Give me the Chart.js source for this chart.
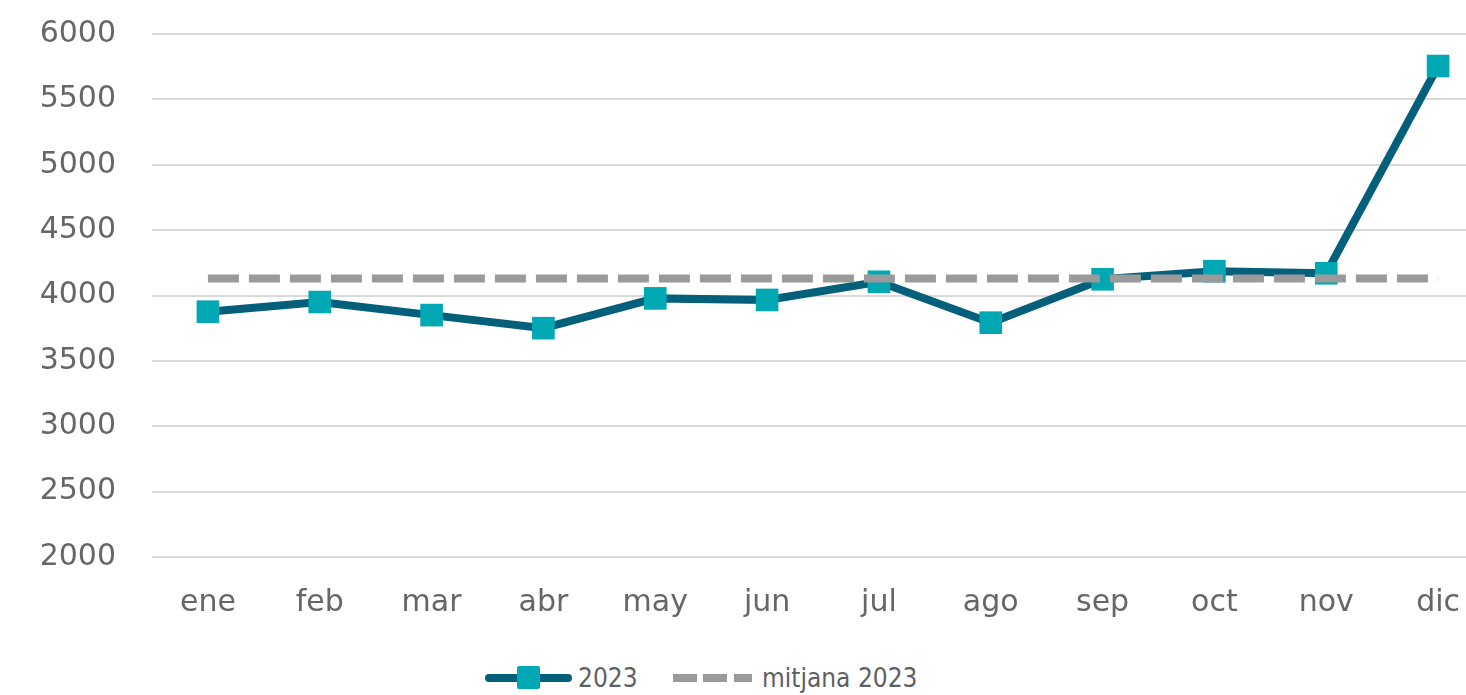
<!DOCTYPE html>
<html>
<head>
<meta charset="utf-8">
<script src="https://cdn.jsdelivr.net/npm/chart.js@4/dist/chart.umd.min.js"></script>
<style>
    html, body { margin: 0; padding: 0; background: #fff; overflow: hidden; }
    #wrap { position: relative; width: 1466px; height: 695px; overflow: hidden; }
    #chart { position: absolute; left: 0; top: -20px; }
    .legend { position: absolute; top: 660px; height: 36px; white-space: nowrap; font-family: "Liberation Sans Narrow", "DejaVu Sans Condensed", sans-serif; font-size: 26px; color: #5f5f5f; line-height: 36px; }
    .sample-line { position: absolute; top: 14px; height: 8px; border-radius: 4px; background: #035f7a; }
    .sample-mark { position: absolute; top: 6px; width: 23px; height: 23px; border-radius: 2px; background: #00a8b4; }
    .sample-dash { position: absolute; top: 14px; height: 8px; background: #9a9a9a; }
</style>
</head>
<body>
<div id="wrap">
    <canvas id="chart" width="1494" height="661"></canvas>

    <!-- legend -->
    <div class="legend" style="left:485px; width:160px;">
        <div class="sample-line" style="left:0; width:87px;"></div>
        <div class="sample-mark" style="left:32px;"></div>
        <span style="position:absolute; left:93px;">2023</span>
    </div>
    <div class="legend" style="left:673px; width:300px;">
        <div class="sample-dash" style="left:0; width:24px;"></div>
        <div class="sample-dash" style="left:30px; width:24px;"></div>
        <div class="sample-dash" style="left:61px; width:18px;"></div>
        <span style="position:absolute; left:89px;">mitjana 2023</span>
    </div>
</div>

<script>
/* ================= DATA ================= */
const months = ["ene", "feb", "mar", "abr", "may", "jun", "jul", "ago", "sep", "oct", "nov", "dic"];
const values2023 = [3876, 3950, 3850, 3750, 3978, 3966, 4105, 3792, 4124, 4186, 4170, 5755];
const mean2023 = 4130;
const yTicks = [2000, 2500, 3000, 3500, 4000, 4500, 5000, 5500, 6000];

const meanLine = months.map(() => mean2023);

/* ================= CHART ================= */
const tickFont = { family: "DejaVu Sans", size: 30 };

new Chart(document.getElementById("chart"), {
    type: "line",
    data: {
        labels: months,
        datasets: [
            {
                label: "2023",
                data: values2023,
                borderColor: "#035f7a",
                borderWidth: 8,
                pointStyle: "rect",
                pointRadius: 16,
                pointBackgroundColor: "#00a8b4",
                pointBorderWidth: 0,
                tension: 0,
                order: 1
            },
            {
                label: "mitjana 2023",
                data: meanLine,
                borderColor: "#9a9a9a",
                borderWidth: 8,
                borderDash: [31, 10],
                borderCapStyle: "butt",
                pointRadius: 0,
                tension: 0,
                order: 0
            }
        ]
    },
    options: {
        responsive: false,
        animation: false,
        devicePixelRatio: 1,
        layout: { autoPadding: false, padding: { top: 13, right: 0, bottom: 0, left: 0 } },
        plugins: {
            legend: { display: false },
            tooltip: { enabled: false }
        },
        scales: {
            x: {
                offset: true,
                grid: { display: false, drawTicks: false },
                border: { display: false },
                ticks: { font: tickFont, color: "#666", padding: 28, maxRotation: 0 },
                afterFit: (scale) => { scale.height = 84; }
            },
            y: {
                min: yTicks[0],
                max: yTicks[yTicks.length - 1],
                afterBuildTicks: (scale) => { scale.ticks = yTicks.map(v => ({ value: v })); },
                grid: { color: "#d9d9d9", lineWidth: 2, drawTicks: false },
                border: { display: false },
                ticks: { font: tickFont, color: "#666", padding: 36, callback: (v) => String(v) },
                afterFit: (scale) => { scale.width = 152; }
            }
        }
    }
});
</script>
</body>
</html>
